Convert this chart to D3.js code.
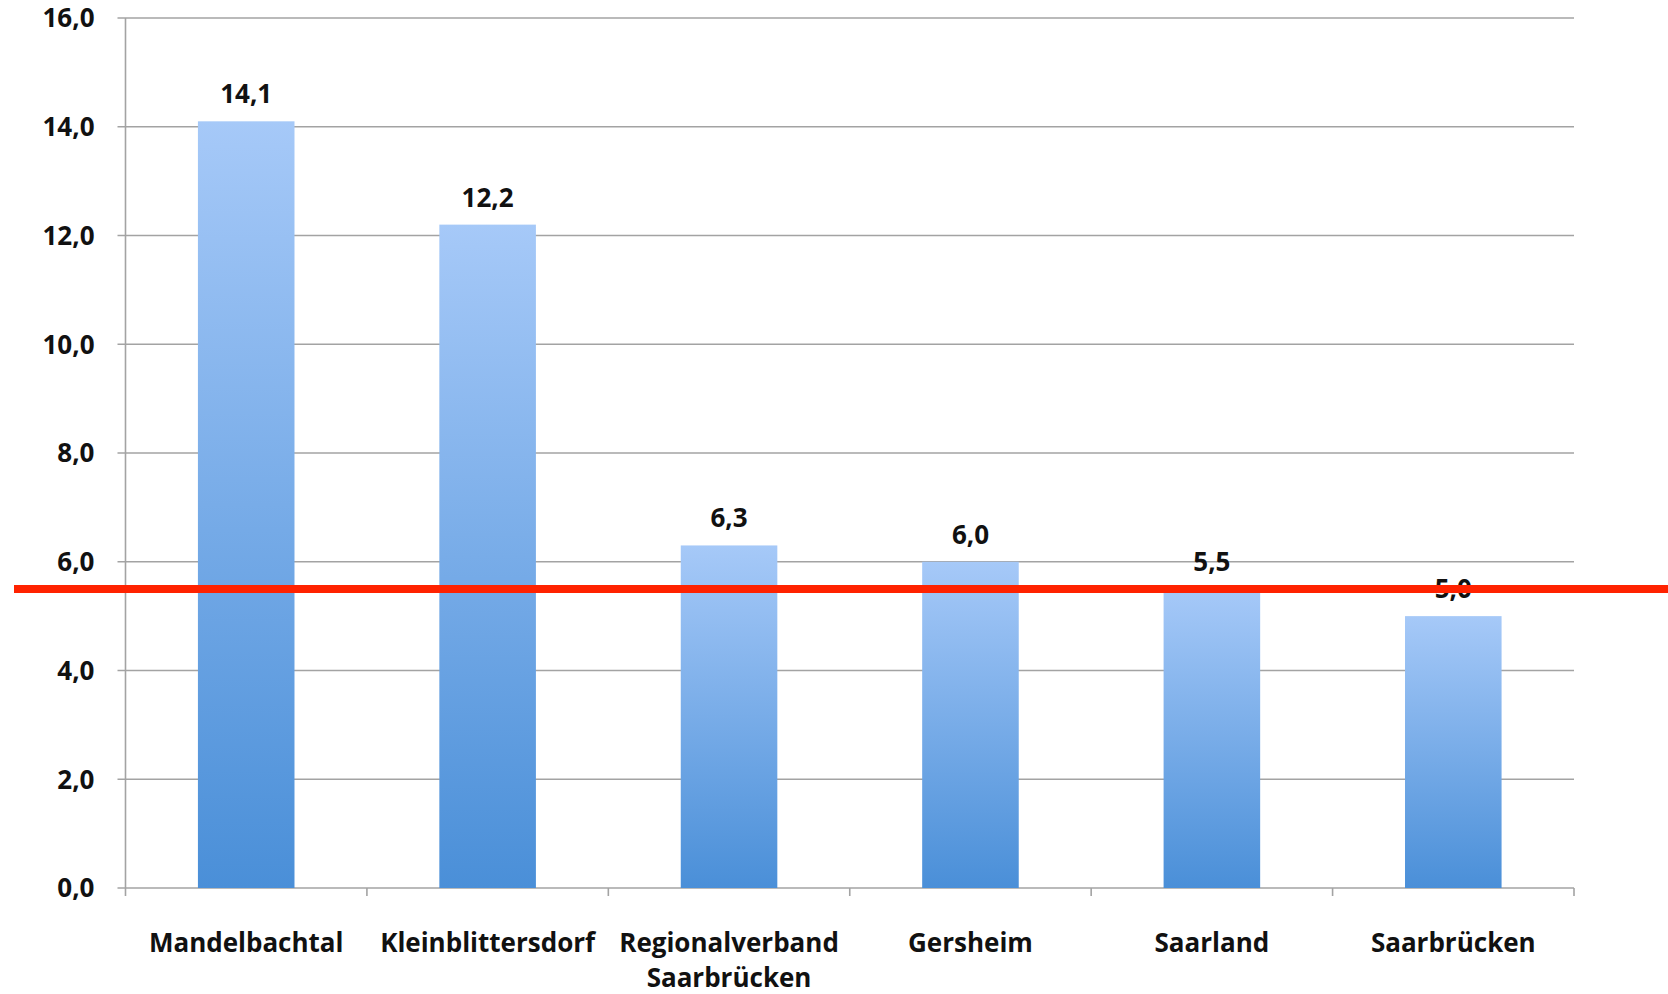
<!DOCTYPE html>
<html>
<head>
<meta charset="utf-8">
<script src="https://cdn.jsdelivr.net/npm/d3@7"></script>
<style>
  body { margin: 0; background: #fff; overflow: hidden; }
  text { font-family: "Open Sans", "DejaVu Sans", sans-serif; font-weight: bold; fill: #111; }
</style>
</head>
<body>
<div id="chart"></div>
<script>
// data
var categories = ["Mandelbachtal", "Kleinblittersdorf", "Regionalverband\nSaarbrücken", "Gersheim", "Saarland", "Saarbrücken"];
var values = [14.1, 12.2, 6.3, 6.0, 5.5, 5.0];
var yTicks = [0, 2, 4, 6, 8, 10, 12, 14, 16];
var referenceValue = 5.5;  // red line

const width = 1668, height = 994;
const margin = { top: 18, right: 94, bottom: 106, left: 125.5 };

var de = d3.formatLocale({ decimal: ",", thousands: ".", grouping: [3], currency: ["", " €"] });
var fmt = de.format(".1f");

var svg = d3.select("#chart")
  .append("svg")
  .attr("width", width)
  .attr("height", height);

var x = d3.scaleBand()
  .domain(categories)
  .range([margin.left, width - margin.right])
  .paddingInner(0.6)
  .paddingOuter(0.3);

var xEdges = d3.scaleBand()
  .domain(categories)
  .range([margin.left, width - margin.right]);

var y = d3.scaleLinear()
  .domain([0, 16])
  .range([height - margin.bottom, margin.top]);

// gradient for bars
var defs = svg.append("defs");
var grad = defs.append("linearGradient")
  .attr("id", "barGrad")
  .attr("x1", 0).attr("y1", 0).attr("x2", 0).attr("y2", 1);
grad.append("stop").attr("offset", "0%").attr("stop-color", "#a6c9f8");
grad.append("stop").attr("offset", "100%").attr("stop-color", "#4a8fd8");

// gridlines
svg.append("g")
  .selectAll("line")
  .data(yTicks)
  .enter()
  .append("line")
  .attr("x1", margin.left - 8)
  .attr("x2", width - margin.right)
  .attr("y1", d => y(d))
  .attr("y2", d => y(d))
  .attr("stroke", "#a3a3a3")
  .attr("stroke-width", 1.6);

// y axis line
svg.append("line")
  .attr("x1", margin.left).attr("x2", margin.left)
  .attr("y1", y(16)).attr("y2", y(0) + 8)
  .attr("stroke", "#a3a3a3")
  .attr("stroke-width", 1.6);

// y tick labels
svg.append("g")
  .selectAll("text")
  .data(yTicks)
  .enter()
  .append("text")
  .attr("x", margin.left - 31)
  .attr("y", d => y(d))
  .attr("dy", "0.36em")
  .attr("text-anchor", "end")
  .style("font-size", "26px")
  .text(d => fmt(d));

// x category tick marks
svg.append("g")
  .selectAll("line")
  .data(categories)
  .enter()
  .append("line")
  .attr("x1", d => xEdges(d) + xEdges.bandwidth())
  .attr("x2", d => xEdges(d) + xEdges.bandwidth())
  .attr("y1", y(0))
  .attr("y2", y(0) + 8)
  .attr("stroke", "#a3a3a3")
  .attr("stroke-width", 1.6);

// bars
svg.append("g")
  .selectAll("rect")
  .data(values)
  .enter()
  .append("rect")
  .attr("x", (d, i) => x(categories[i]))
  .attr("width", x.bandwidth())
  .attr("y", d => y(d))
  .attr("height", d => y(0) - y(d))
  .attr("fill", "url(#barGrad)");

// value labels
svg.append("g")
  .selectAll("text")
  .data(values)
  .enter()
  .append("text")
  .attr("x", (d, i) => x(categories[i]) + x.bandwidth() / 2)
  .attr("y", d => y(d) - 18)
  .attr("text-anchor", "middle")
  .style("font-size", "26px")
  .text(d => fmt(d));

// category labels
var catLabels = svg.append("g")
  .selectAll("text")
  .data(categories)
  .enter()
  .append("text")
  .attr("x", d => x(d) + x.bandwidth() / 2)
  .attr("y", y(0) + 64)
  .attr("text-anchor", "middle")
  .style("font-size", "26px");

catLabels.selectAll("tspan")
  .data(d => d.split("\n"))
  .enter()
  .append("tspan")
  .attr("x", function () { return d3.select(this.parentNode).attr("x"); })
  .attr("dy", (d, i) => i === 0 ? 0 : 35)
  .text(d => d);

// red reference line
svg.append("line")
  .attr("x1", 14)
  .attr("x2", width)
  .attr("y1", y(referenceValue))
  .attr("y2", y(referenceValue))
  .attr("stroke", "#ff2200")
  .attr("stroke-width", 8);
</script>
</body>
</html>
